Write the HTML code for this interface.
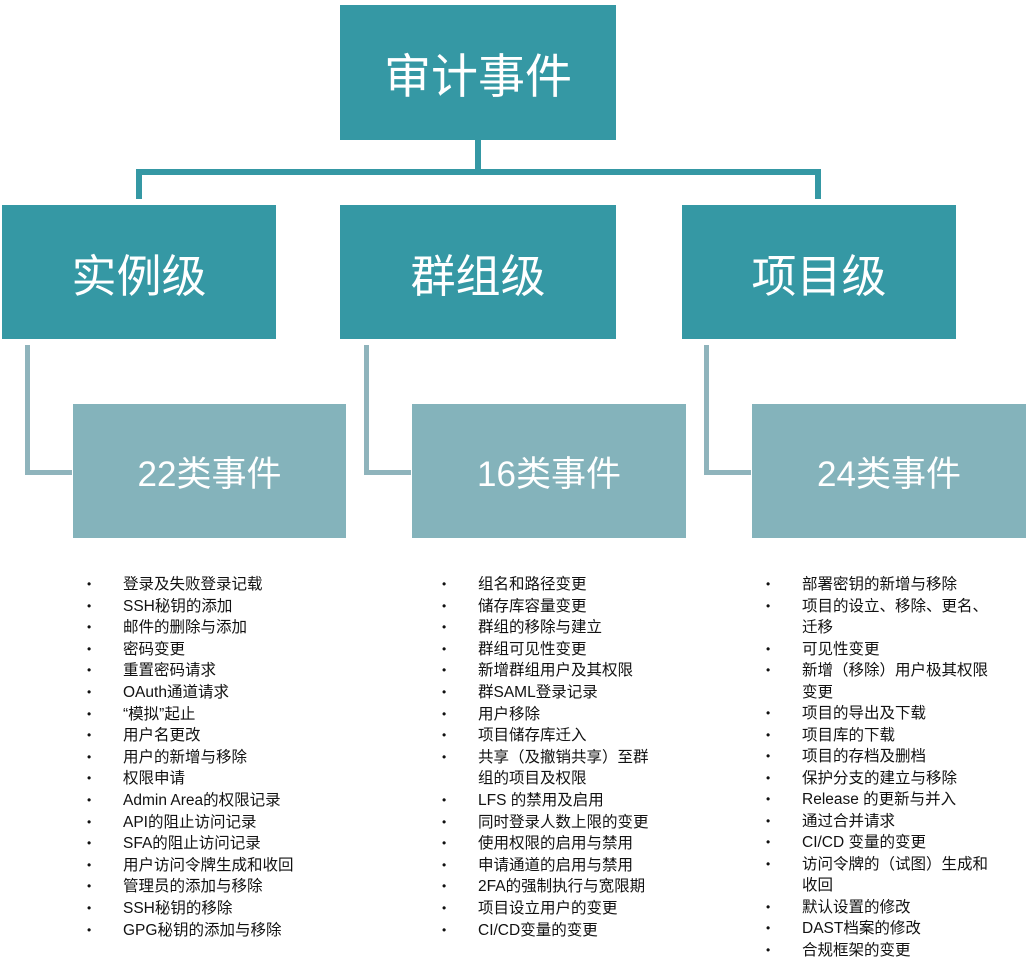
<!DOCTYPE html>
<html><head><meta charset="utf-8"><style>
body{margin:0;width:1032px;height:966px;background:#fff;position:relative;overflow:hidden;font-family:"Liberation Sans","Noto Sans CJK SC",sans-serif}
.b{position:absolute;display:flex;align-items:center;justify-content:center;color:#fff}
.d{background:#3598a4;font-size:45px}
.l{background:#84b3bb;font-size:35px}
.ln{position:absolute}
ul{position:absolute;margin:0;padding:0;list-style:none;font-size:15.5px;color:#111}
li{position:relative;padding-left:0;white-space:nowrap}
li.bl::before{content:"•";position:absolute;left:-36px;font-size:12px}
</style></head><body>
<div class="b d" style="left:340px;top:5px;width:276px;height:135px;font-size:47px">审计事件</div>
<div class="ln" style="left:475px;top:140px;width:6px;height:34px;background:#3598a4"></div>
<div class="ln" style="left:136px;top:169px;width:685px;height:6px;background:#3598a4;border-radius:3px"></div>
<div class="ln" style="left:136px;top:169px;width:6px;height:30px;background:#3598a4"></div>
<div class="ln" style="left:815px;top:169px;width:6px;height:30px;background:#3598a4"></div>
<div class="b d" style="left:2px;top:205px;width:274px;height:134px">实例级</div>
<div class="b d" style="left:340px;top:205px;width:276px;height:134px">群组级</div>
<div class="b d" style="left:682px;top:205px;width:274px;height:134px">项目级</div>
<div class="ln" style="left:25px;top:345px;width:42px;height:125px;border-left:5px solid #8fb4bc;border-bottom:5px solid #8fb4bc"></div>
<div class="ln" style="left:364px;top:345px;width:42px;height:125px;border-left:5px solid #8fb4bc;border-bottom:5px solid #8fb4bc"></div>
<div class="ln" style="left:704px;top:345px;width:42px;height:125px;border-left:5px solid #8fb4bc;border-bottom:5px solid #8fb4bc"></div>
<div class="b l" style="left:73px;top:404px;width:273px;height:134px">22类事件</div>
<div class="b l" style="left:412px;top:404px;width:274px;height:134px">16类事件</div>
<div class="b l" style="left:752px;top:404px;width:274px;height:134px">24类事件</div>
<ul style="left:123px;top:574px;line-height:21.6px">
<li class="bl">登录及失败登录记载</li><li class="bl">SSH秘钥的添加</li><li class="bl">邮件的删除与添加</li><li class="bl">密码变更</li><li class="bl">重置密码请求</li><li class="bl">OAuth通道请求</li><li class="bl">“模拟”起止</li><li class="bl">用户名更改</li><li class="bl">用户的新增与移除</li><li class="bl">权限申请</li><li class="bl">Admin Area的权限记录</li><li class="bl">API的阻止访问记录</li><li class="bl">SFA的阻止访问记录</li><li class="bl">用户访问令牌生成和收回</li><li class="bl">管理员的添加与移除</li><li class="bl">SSH秘钥的移除</li><li class="bl">GPG秘钥的添加与移除</li>
</ul>
<ul style="left:478px;top:574px;line-height:21.6px">
<li class="bl">组名和路径变更</li><li class="bl">储存库容量变更</li><li class="bl">群组的移除与建立</li><li class="bl">群组可见性变更</li><li class="bl">新增群组用户及其权限</li><li class="bl">群SAML登录记录</li><li class="bl">用户移除</li><li class="bl">项目储存库迁入</li><li class="bl">共享（及撤销共享）至群</li><li>组的项目及权限</li><li class="bl">LFS 的禁用及启用</li><li class="bl">同时登录人数上限的变更</li><li class="bl">使用权限的启用与禁用</li><li class="bl">申请通道的启用与禁用</li><li class="bl">2FA的强制执行与宽限期</li><li class="bl">项目设立用户的变更</li><li class="bl">CI/CD变量的变更</li>
</ul>
<ul style="left:802px;top:574px;line-height:21.5px">
<li class="bl">部署密钥的新增与移除</li><li class="bl">项目的设立、移除、更名、</li><li>迁移</li><li class="bl">可见性变更</li><li class="bl">新增（移除）用户极其权限</li><li>变更</li><li class="bl">项目的导出及下载</li><li class="bl">项目库的下载</li><li class="bl">项目的存档及删档</li><li class="bl">保护分支的建立与移除</li><li class="bl">Release 的更新与并入</li><li class="bl">通过合并请求</li><li class="bl">CI/CD 变量的变更</li><li class="bl">访问令牌的（试图）生成和</li><li>收回</li><li class="bl">默认设置的修改</li><li class="bl">DAST档案的修改</li><li class="bl">合规框架的变更</li>
</ul>
</body></html>
